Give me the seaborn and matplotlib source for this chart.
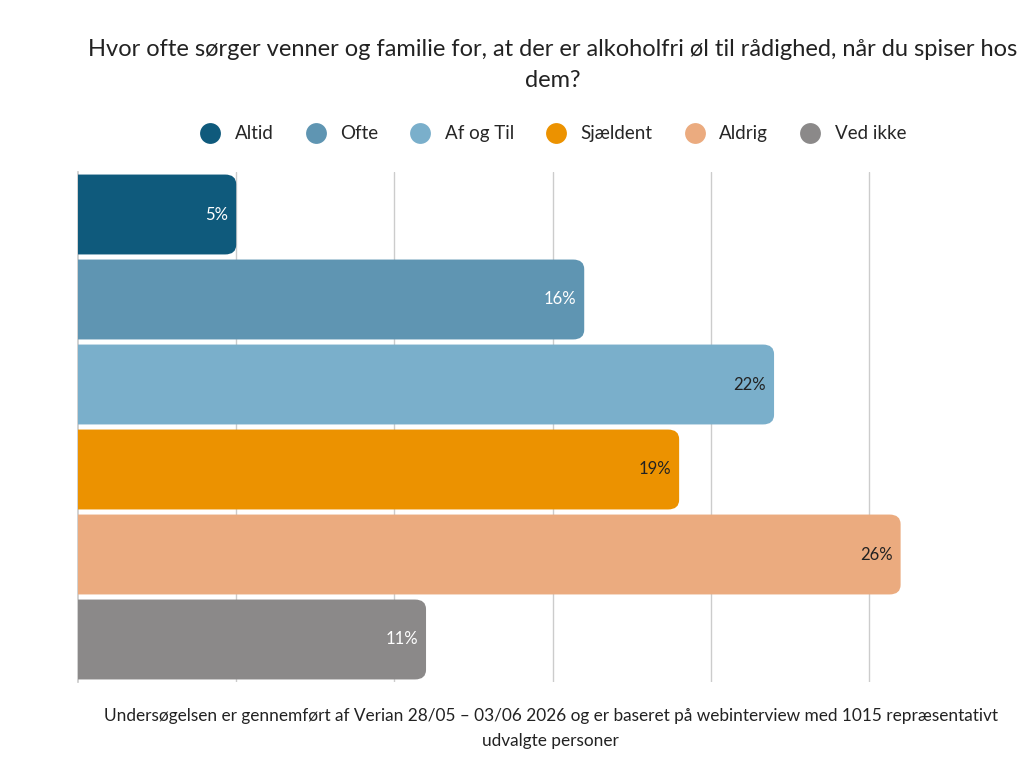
import matplotlib
matplotlib.use("Agg")
import matplotlib.pyplot as plt
import seaborn as sns
import pandas as pd
from matplotlib.patches import FancyBboxPatch
from matplotlib.lines import Line2D

categories = ["Altid", "Ofte", "Af og Til", "Sjældent", "Aldrig", "Ved ikke"]
values = [5, 16, 22, 19, 26, 11]
colors = ["#0f5a7c", "#5f95b2", "#7aafcb", "#ec9200", "#ebab7f", "#8b8989"]
label_colors = ["white", "white", "#222222", "#222222", "#222222", "white"]

df = pd.DataFrame({"kategori": categories, "andel": values})

sns.set_theme(style="white")
plt.rcParams["font.family"] = ["Lato", "DejaVu Sans"]

fig = plt.figure(figsize=(10.24, 7.68), dpi=100)
ax = fig.add_axes([78 / 1024, 1 - 682 / 768, 946 / 1024, 510 / 768])

sns.barplot(data=df, x="andel", y="kategori", hue="kategori", palette=colors,
            width=0.94, legend=False, ax=ax)

# erstat rektangler med afrundede hjørner
for patch, col in zip(ax.patches, colors):
    x0, y0 = patch.get_x(), patch.get_y()
    w, h = patch.get_width(), patch.get_height()
    patch.set_visible(False)
    rounded = FancyBboxPatch((x0 - 1, y0), w + 1, h,
                             boxstyle="round,pad=0,rounding_size=0.35",
                             mutation_aspect=h / 0.35 * 0.12,
                             facecolor=col, edgecolor="none", zorder=3)
    ax.add_patch(rounded)

for i, (v, lc) in enumerate(zip(values, label_colors)):
    ax.text(v - 0.25, i, f"{v}%", ha="right", va="center", color=lc, fontsize=12, zorder=4)

ax.set_xlim(0, 29.9)
ax.set_ylim(5.5, -0.5)
ax.set_xticks([5, 10, 15, 20, 25])
ax.xaxis.grid(True, color="#cccccc", linewidth=1)
ax.set_axisbelow(True)
ax.set_xticklabels([])
ax.set_yticklabels([])
ax.tick_params(length=0)
ax.set_xlabel("")
ax.set_ylabel("")
for s in ["top", "right", "bottom"]:
    ax.spines[s].set_visible(False)
ax.spines["left"].set_color("#cccccc")

fig.text(0.54, 0.915, "Hvor ofte sørger venner og familie for, at der er alkoholfri øl til rådighed, når du spiser hos\ndem?",
         ha="center", va="center", fontsize=17, color="#222222", linespacing=1.6)

handles = [Line2D([], [], marker="o", linestyle="", markersize=15, markerfacecolor=c,
                  markeredgecolor="none") for c in colors]
fig.legend(handles, categories, loc="center", bbox_to_anchor=(0.536, 0.826), ncol=6,
           frameon=False, fontsize=13.5, handletextpad=0.3, columnspacing=1.25)

fig.text(0.538, 0.052, "Undersøgelsen er gennemført af Verian 28/05 – 03/06 2026 og er baseret på webinterview med 1015 repræsentativt\nudvalgte personer",
         ha="center", va="center", fontsize=12.4, color="#222222", linespacing=1.7)

fig.savefig("out.png", dpi=100)
